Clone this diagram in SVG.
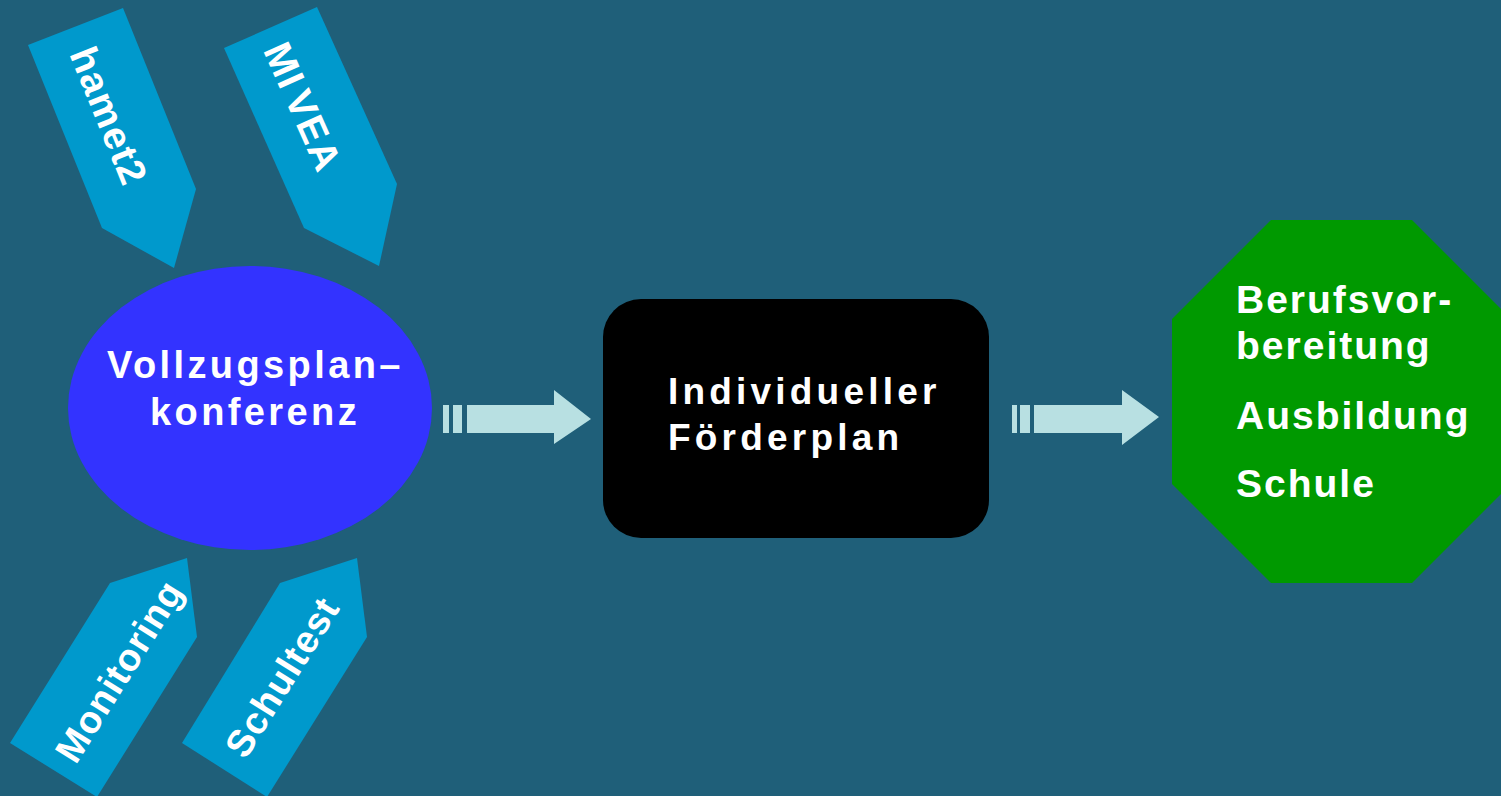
<svg xmlns="http://www.w3.org/2000/svg" width="1501" height="796" viewBox="0 0 1501 796">
<style>
.t{font-family:"Liberation Sans",Arial,sans-serif;font-weight:bold;fill:#ffffff;font-size:36px;letter-spacing:4px}
.k{font-size:39px;letter-spacing:1.5px}
.e{font-size:38px;letter-spacing:3.4px}
.b{font-size:37px;letter-spacing:4.2px}
.g{font-size:39px;letter-spacing:2px}
.tag{fill:#0099cc}
.arr{fill:#b8e0e2}
</style>
<rect x="0" y="0" width="1501" height="796" fill="#1f5f79"/>
<g id="tag-hamet2">
<polygon class="tag" points="28,45 123,8 196,189 174,268 102,228"/>
<text class="t k" text-anchor="middle" dy="0.35em" transform="translate(109,116) rotate(68)">hamet2</text>
</g>
<g id="tag-mivea">
<polygon class="tag" points="224,48 317,7 397,184 379,266 304,228"/>
<text class="t k" text-anchor="middle" dy="0.35em" transform="translate(303,107) rotate(66)">MI<tspan dx="6">VEA</tspan></text>
</g>
<g id="tag-monitoring">
<polygon class="tag" points="10,743 110,583 187,558 197,637 97,797"/>
<text class="t k" style="font-size:38px;letter-spacing:1px" text-anchor="middle" dy="0.35em" transform="translate(119,671) rotate(-58)">Monitoring</text>
</g>
<g id="tag-schultest">
<polygon class="tag" points="182,743 280,583 357,558 367,637 267,797"/>
<text class="t k" style="font-size:38px;letter-spacing:1px" text-anchor="middle" dy="0.35em" transform="translate(282,677) rotate(-58)">Schultest</text>
</g>
<g id="node-konferenz">
<ellipse cx="250" cy="408" rx="182" ry="142" fill="#3333ff"/>
<text class="t e" x="107" y="378">Vollzugsplan–</text>
<text class="t e" x="150" y="425">konferenz</text>
</g>
<g id="node-foerderplan">
<rect x="603" y="299" width="386" height="239" rx="38" ry="38" fill="#000000"/>
<text class="t b" x="668" y="404">Individueller</text>
<text class="t b" x="668" y="450">Förderplan</text>
</g>
<g id="node-ziele">
<polygon points="1271,220 1412,220 1511,319 1511,484 1412,583 1271,583 1172,484 1172,319" fill="#009900"/>
<text class="t g" x="1236" y="313">Berufsvor-</text>
<text class="t g" x="1236" y="359">bereitung</text>
<text class="t g" x="1236" y="429">Ausbildung</text>
<text class="t g" x="1236" y="497">Schule</text>
</g>
<g id="connectors">
<rect class="arr" x="443" y="405" width="6" height="28"/>
<rect class="arr" x="453" y="405" width="9" height="28"/>
<polygon class="arr" points="467,405 554,405 554,390 591,419 554,444 554,433 467,433"/>
<rect class="arr" x="1012" y="405" width="5" height="28"/>
<rect class="arr" x="1020" y="405" width="10" height="28"/>
<polygon class="arr" points="1034,405 1122,405 1122,390 1159,417 1122,445 1122,433 1034,433"/>
</g>
</svg>
